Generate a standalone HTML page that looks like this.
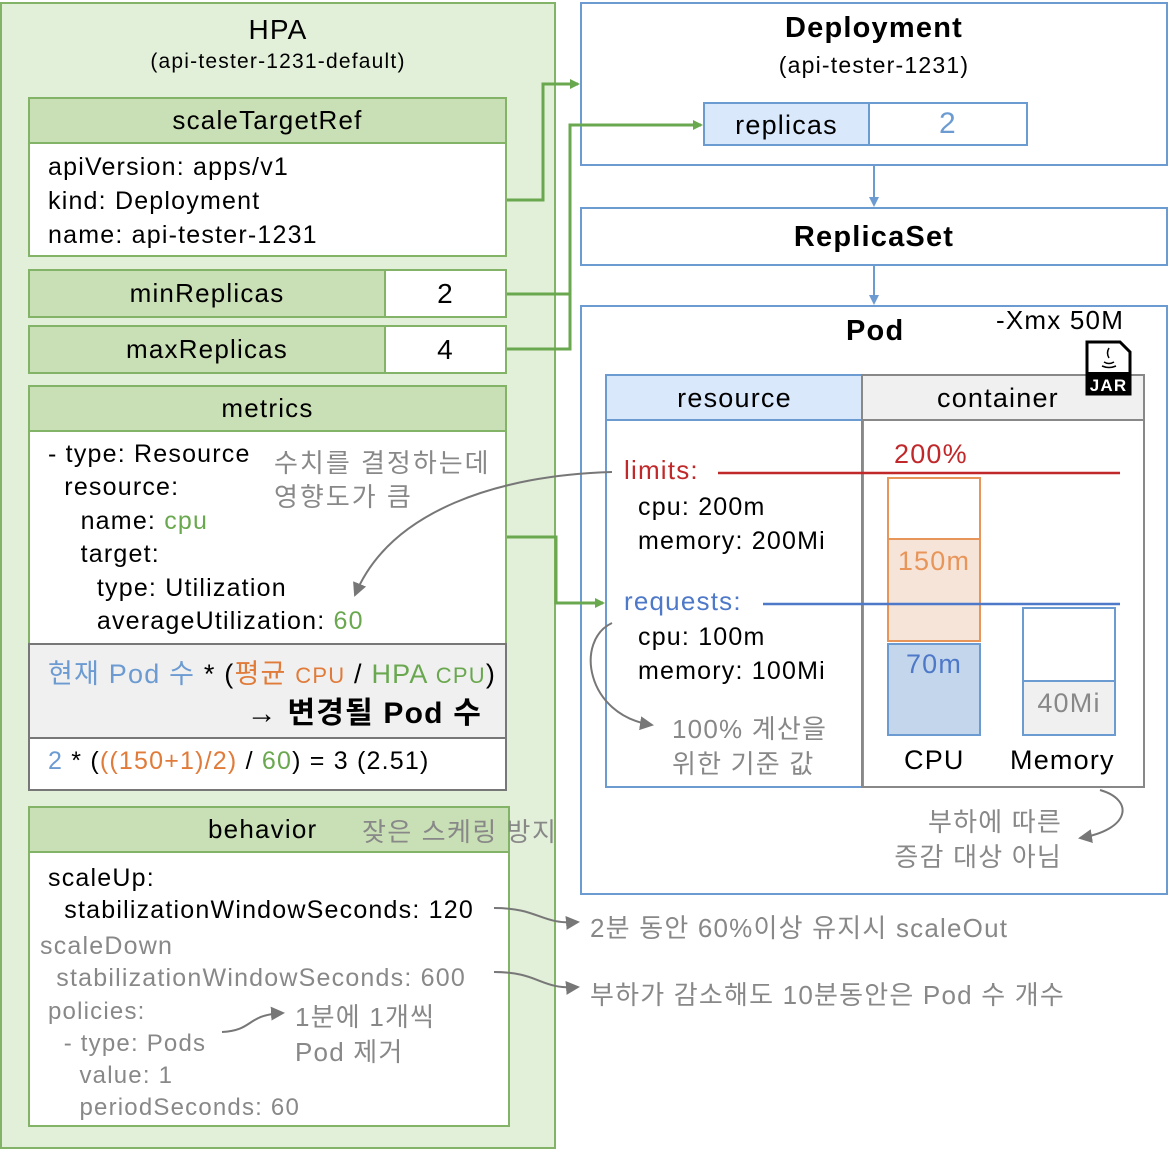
<!DOCTYPE html>
<html><head><meta charset="utf-8"><style>
body{margin:0;width:1174px;height:1150px;background:#fff;position:relative;overflow:hidden;font-family:"Liberation Sans","Noto Sans CJK KR",sans-serif;color:#000;letter-spacing:1.2px}
.a{position:absolute;box-sizing:border-box}
.t{position:absolute;white-space:nowrap}
.gh{background:#c9dfb5;border:2px solid #82b366;text-align:center;font-size:26px}
.gw{background:#fff;border:2px solid #82b366}
.bl{border:2px solid #6c9bd2;background:#fff}
.g{color:#888}
</style></head><body>
<div class="a" style="left:0;top:2px;width:556px;height:1147px;background:#e2efd9;border:2px solid #82b366"></div>
<div class="t" style="left:0;width:556px;text-align:center;top:14px;font-size:28px">HPA</div>
<div class="t" style="left:0;width:556px;text-align:center;top:50px;font-size:21px">(api-tester-1231-default)</div>

<div class="a gh" style="left:28px;top:97px;width:479px;height:47px;line-height:43px">scaleTargetRef</div>
<div class="a gw" style="left:28px;top:142px;width:479px;height:115px"></div>
<div class="t" style="left:48px;top:150px;font-size:25px;line-height:34px">apiVersion: apps/v1<br>kind: Deployment<br>name: api-tester-1231</div>

<div class="a gh" style="left:28px;top:269px;width:358px;height:49px;line-height:45px">minReplicas</div>
<div class="a gw" style="left:384px;top:269px;width:123px;height:49px;text-align:center;font-size:28px;line-height:45px">2</div>
<div class="a gh" style="left:28px;top:325px;width:358px;height:49px;line-height:45px">maxReplicas</div>
<div class="a gw" style="left:384px;top:325px;width:123px;height:49px;text-align:center;font-size:28px;line-height:45px">4</div>

<div class="a gh" style="left:28px;top:385px;width:479px;height:47px;line-height:43px">metrics</div>
<div class="a" style="left:28px;top:430px;width:479px;height:215px;background:#fff;border:2px solid #82b366;border-bottom:none"></div>
<div class="t" style="left:48px;top:438px;font-size:25px;line-height:33.4px">- type: Resource<br>&nbsp;&nbsp;resource:<br>&nbsp;&nbsp;&nbsp;&nbsp;name: <span style="color:#6aa84f">cpu</span><br>&nbsp;&nbsp;&nbsp;&nbsp;target:<br>&nbsp;&nbsp;&nbsp;&nbsp;&nbsp;&nbsp;type: Utilization<br>&nbsp;&nbsp;&nbsp;&nbsp;&nbsp;&nbsp;averageUtilization: <span style="color:#6aa84f">60</span></div>
<div class="t g" style="left:274px;top:446px;font-size:26px;line-height:34px;letter-spacing:2px">수치를 결정하는데<br>영향도가 큼</div>
<div class="a" style="left:28px;top:643px;width:479px;height:96px;background:#f0f0f0;border:2px solid #777"></div>
<div class="t" style="left:48px;top:652px;font-size:27px"><span style="color:#6c9bd2">현재 Pod 수</span> * (<span style="color:#e07b39">평균 <span style="font-size:22px">CPU</span></span> / <span style="color:#6aa84f">HPA <span style="font-size:22px">CPU</span></span>)</div>
<div class="t" style="left:200px;width:282px;text-align:right;top:688px;font-size:30px;font-weight:bold">→ 변경될 Pod 수</div>
<div class="a" style="left:28px;top:739px;width:479px;height:52px;background:#fff;border:2px solid #777;border-top:none"></div>
<div class="t" style="left:48px;top:747px;font-size:25px"><span style="color:#6c9bd2">2</span> * (<span style="color:#e07b39">((150+1)/2)</span> / <span style="color:#6aa84f">60</span>) = 3 (2.51)</div>

<div class="a gh" style="left:28px;top:806px;width:482px;height:47px"></div>
<div class="t" style="left:208px;top:814px;font-size:26px">behavior</div>
<div class="t g" style="left:362px;top:812px;font-size:26px;letter-spacing:1.5px">잦은 스케링 방지</div>
<div class="a gw" style="left:28px;top:851px;width:482px;height:276px"></div>
<div class="t" style="left:48px;top:862px;font-size:25px;line-height:32px">scaleUp:<br>&nbsp;&nbsp;stabilizationWindowSeconds: 120</div>
<div class="t g" style="left:40px;top:930px;font-size:25px;line-height:32px">scaleDown<br>&nbsp;&nbsp;stabilizationWindowSeconds: 600</div>
<div class="t g" style="left:48px;top:996px;font-size:24px;line-height:32px">policies:<br>&nbsp;&nbsp;- type: Pods<br>&nbsp;&nbsp;&nbsp;&nbsp;value: 1<br>&nbsp;&nbsp;&nbsp;&nbsp;periodSeconds: 60</div>
<div class="t g" style="left:295px;top:1000px;font-size:26px;line-height:35px">1분에 1개씩<br>Pod 제거</div>

<div class="a bl" style="left:580px;top:2px;width:588px;height:164px"></div>
<div class="t" style="left:580px;width:588px;text-align:center;top:12px;font-size:29px;font-weight:bold">Deployment</div>
<div class="t" style="left:580px;width:588px;text-align:center;top:52px;font-size:23px">(api-tester-1231)</div>
<div class="a" style="left:703px;top:102px;width:167px;height:44px;background:#dae8fc;border:2px solid #6c9bd2;text-align:center;font-size:27px;line-height:42px">replicas</div>
<div class="a" style="left:868px;top:102px;width:160px;height:44px;border:2px solid #6c9bd2;text-align:center;font-size:30px;line-height:40px;color:#6c9bd2">2</div>

<div class="a bl" style="left:580px;top:207px;width:588px;height:59px;text-align:center;font-size:29px;font-weight:bold;line-height:56px">ReplicaSet</div>

<div class="a bl" style="left:580px;top:305px;width:588px;height:590px"></div>
<div class="t" style="left:846px;top:315px;font-size:29px;font-weight:bold">Pod</div>
<div class="t" style="left:996px;top:305px;font-size:26px">-Xmx 50M</div>
<div class="a" style="left:605px;top:374px;width:259px;height:414px;border:2px solid #6c9bd2"></div>
<div class="a" style="left:605px;top:374px;width:259px;height:47px;background:#dae8fc;border:2px solid #6c9bd2;text-align:center;font-size:27px;line-height:44px">resource</div>
<div class="a" style="left:861px;top:374px;width:284px;height:414px;border:2px solid #888"></div>
<div class="a" style="left:861px;top:374px;width:284px;height:47px;background:#f0f0f0;border:2px solid #888;font-size:27px;line-height:44px;padding-left:74px">container</div>
<svg class="a" style="left:1084px;top:340px" width="50" height="56"><path d="M3 2 H36 L46 12 V54 H3 Z" fill="#fff" stroke="#000" stroke-width="3"/><rect x="2" y="32" width="45" height="22" fill="#000"/><text x="24.5" y="51" font-size="17" font-weight="bold" fill="#fff" text-anchor="middle" font-family="Liberation Sans">JAR</text><path d="M20 22 q5 3 10 0 M18 26 q7 3 14 0 M25 8 q-3 5 0 10" stroke="#000" stroke-width="1.5" fill="none"/></svg>

<div class="t" style="left:624px;top:455px;font-size:26px;color:#c0282a">limits:</div>
<div class="t" style="left:638px;top:490px;font-size:25px;line-height:34px">cpu: 200m<br>memory: 200Mi</div>
<div class="t" style="left:624px;top:586px;font-size:26px;color:#4e78c8">requests:</div>
<div class="t" style="left:638px;top:620px;font-size:25px;line-height:34px">cpu: 100m<br>memory: 100Mi</div>
<div class="t g" style="left:672px;top:712px;font-size:26px;line-height:35px">100% 계산을<br>위한 기준 값</div>
<div class="t" style="left:894px;top:439px;font-size:27px;color:#c0282a">200%</div>
<div class="a" style="left:887px;top:477px;width:94px;height:63px;border:2px solid #e8955a;background:#fff"></div>
<div class="a" style="left:887px;top:538px;width:94px;height:104px;border:2px solid #e8955a;background:#f7e4d8;color:#e8955a;font-size:27px;text-align:center;padding-top:6px">150m</div>
<div class="a" style="left:887px;top:643px;width:94px;height:93px;border:2px solid #6c9bd2;background:#c3d6ec;color:#4e78c8;font-size:27px;text-align:center;padding-top:4px">70m</div>
<div class="a" style="left:1022px;top:607px;width:94px;height:75px;border:2px solid #6c9bd2;background:#fff"></div>
<div class="a" style="left:1022px;top:680px;width:94px;height:56px;border:2px solid #6c9bd2;background:#f0f0f0;color:#888;font-size:27px;text-align:center;padding-top:6px">40Mi</div>
<div class="t" style="left:904px;top:745px;font-size:27px">CPU</div>
<div class="t" style="left:1010px;top:745px;font-size:27px">Memory</div>
<div class="t g" style="left:868px;top:805px;font-size:26px;line-height:35px;text-align:right;width:194px">부하에 따른<br>증감 대상 아님</div>

<div class="t g" style="left:590px;top:908px;font-size:26px">2분 동안 60%이상 유지시 scaleOut</div>
<div class="t g" style="left:590px;top:975px;font-size:26px">부하가 감소해도 10분동안은 Pod 수 개수</div>

<svg class="a" style="left:0;top:0" width="1174" height="1150">
<defs>
<marker id="ag" markerWidth="10" markerHeight="10" refX="8" refY="5" orient="auto" markerUnits="userSpaceOnUse"><path d="M0 0 L10 5 L0 10 Z" fill="#6aa84f"/></marker>
<marker id="ab" markerWidth="10" markerHeight="10" refX="8" refY="5" orient="auto" markerUnits="userSpaceOnUse"><path d="M0 0 L10 5 L0 10 Z" fill="#6c9bd2"/></marker>
<marker id="ay" markerWidth="14" markerHeight="14" refX="12" refY="7" orient="auto" markerUnits="userSpaceOnUse"><path d="M0 0 L14 7 L0 14 Z" fill="#777"/></marker>
</defs>
<g fill="none" stroke-width="3" stroke="#6aa84f">
<path d="M507 200 H543 V84 H578" marker-end="url(#ag)"/>
<path d="M507 294 H570 V125 H701" marker-end="url(#ag)"/>
<path d="M507 349 H570 V294"/>
<path d="M507 537 H556 V603 H603" marker-end="url(#ag)"/>
</g>
<g stroke="#6c9bd2" stroke-width="2" fill="none">
<path d="M874 166 V205" marker-end="url(#ab)"/>
<path d="M874 266 V303" marker-end="url(#ab)"/>
</g>
<line x1="718" y1="473" x2="1120" y2="473" stroke="#c0282a" stroke-width="2.5"/>
<line x1="763" y1="604" x2="1120" y2="604" stroke="#4e78c8" stroke-width="2.5"/>
<g stroke="#777" stroke-width="2" fill="none">
<path d="M612 472 C500 475 390 510 355 595" marker-end="url(#ay)"/>
<path d="M612 623 C575 640 585 715 652 725" marker-end="url(#ay)"/>
<path d="M1100 790 C1135 800 1130 830 1080 838" marker-end="url(#ay)"/>
<path d="M494 908 C540 908 540 925 578 922" marker-end="url(#ay)"/>
<path d="M494 972 C540 972 540 990 578 987" marker-end="url(#ay)"/>
<path d="M222 1032 C255 1030 245 1015 283 1013" marker-end="url(#ay)"/>
</g>
</svg>
</body></html>
